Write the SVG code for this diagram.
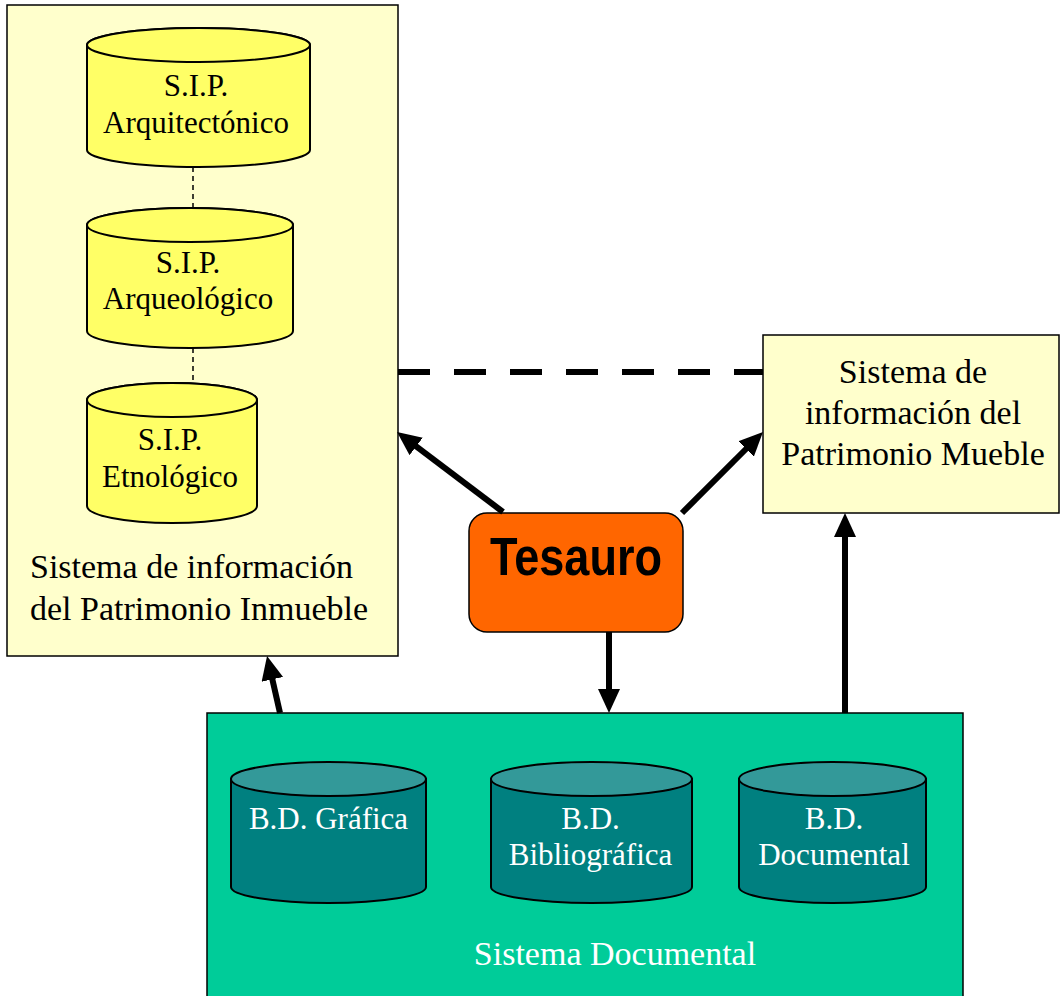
<svg xmlns="http://www.w3.org/2000/svg" width="1064" height="996" viewBox="0 0 1064 996">
<style>
.box{stroke:#000;stroke-width:1.5}
.ycyl{fill:#FFFF66;stroke:#000;stroke-width:2}
.tbody{fill:#008080;stroke:#000;stroke-width:2}
.ttop{fill:#339999;stroke:#000;stroke-width:2}
.t{font-family:"Liberation Serif","Times New Roman",serif;text-anchor:middle}
.cy{font-size:31px;fill:#000}
.wt{font-size:31px;fill:#fff}
.lbl{font-size:34px}
.arr{stroke:#000;stroke-width:6;fill:none;marker-end:url(#ah)}
</style>
<defs>
<marker id="ah" markerUnits="userSpaceOnUse" markerWidth="26" markerHeight="24" refX="12" refY="11" orient="auto">
<path d="M0,0 L24,11 L0,22 Z" fill="#000"/>
</marker>
</defs>
<rect width="1064" height="996" fill="#fff"/>

<g id="inmueble">
<rect class="box" x="7" y="5" width="391" height="651" fill="#FFFFCC"/>
<text class="t lbl" x="30" y="578" style="text-anchor:start">Sistema de información</text>
<text class="t lbl" x="30" y="620" style="text-anchor:start">del Patrimonio Inmueble</text>
</g>

<g id="sip-arquitectonico">
<path class="ycyl" d="M87,45 L87,150 A111.5,17 0 0 0 310,150 L310,45 A111.5,17 0 0 0 87,45 Z"/>
<ellipse class="ycyl" cx="198.5" cy="45" rx="111.5" ry="17"/>
<text class="t cy" x="196" y="96">S.I.P.</text>
<text class="t cy" x="196" y="133">Arquitectónico</text>
</g>

<g id="sip-arqueologico">
<path class="ycyl" d="M87,225 L87,331 A103,17 0 0 0 293,331 L293,225 A103,17 0 0 0 87,225 Z"/>
<ellipse class="ycyl" cx="190" cy="225" rx="103" ry="17"/>
<text class="t cy" x="188" y="273">S.I.P.</text>
<text class="t cy" x="188" y="309">Arqueológico</text>
</g>

<g id="sip-etnologico">
<path class="ycyl" d="M87,400 L87,506 A85,17 0 0 0 257,506 L257,400 A85,17 0 0 0 87,400 Z"/>
<ellipse class="ycyl" cx="172" cy="400" rx="85" ry="17"/>
<text class="t cy" x="170" y="450">S.I.P.</text>
<text class="t cy" x="170" y="487">Etnológico</text>
</g>

<g id="mueble">
<rect class="box" x="763" y="335" width="296" height="178" fill="#FFFFCC"/>
<text class="t lbl" x="913" y="383">Sistema de</text>
<text class="t lbl" x="913" y="424">información del</text>
<text class="t lbl" x="913" y="465">Patrimonio Mueble</text>
</g>

<g id="tesauro">
<rect class="box" x="469" y="513" width="214" height="119" rx="18" fill="#FF6600"/>
<text x="576" y="575" text-anchor="middle" font-family="'Liberation Sans Narrow','Liberation Sans',Arial,sans-serif" font-weight="bold" font-size="53" textLength="172" lengthAdjust="spacingAndGlyphs" fill="#000">Tesauro</text>
</g>

<g id="documental">
<rect class="box" x="207" y="713" width="756" height="300" fill="#00CC99"/>
<text class="t lbl" x="615" y="965" fill="#fff">Sistema Documental</text>
</g>

<g id="bd-grafica">
<path class="tbody" d="M231,779 L231,887 A97.5,16 0 0 0 426,887 L426,779 Z"/>
<ellipse class="ttop" cx="328.5" cy="779" rx="97.5" ry="17"/>
<text class="t wt" x="328.5" y="829">B.D. Gráfica</text>
</g>

<g id="bd-bibliografica">
<path class="tbody" d="M491,779 L491,887 A100.5,16 0 0 0 692,887 L692,779 Z"/>
<ellipse class="ttop" cx="591.5" cy="779" rx="100.5" ry="17"/>
<text class="t wt" x="590.5" y="829">B.D.</text>
<text class="t wt" x="590.5" y="865">Bibliográfica</text>
</g>

<g id="bd-documental">
<path class="tbody" d="M739,779 L739,887 A93.5,16 0 0 0 926,887 L926,779 Z"/>
<ellipse class="ttop" cx="832.5" cy="779" rx="93.5" ry="17"/>
<text class="t wt" x="834" y="829">B.D.</text>
<text class="t wt" x="834" y="865">Documental</text>
</g>

<g id="connectors">
<line x1="193" y1="167" x2="193" y2="208" stroke="#000" stroke-width="1.5" stroke-dasharray="5,4"/>
<line x1="193" y1="348" x2="193" y2="383" stroke="#000" stroke-width="1.5" stroke-dasharray="5,4"/>
<line x1="398" y1="372" x2="763" y2="372" stroke="#000" stroke-width="6" stroke-dasharray="32,24"/>
<line class="arr" x1="503" y1="512" x2="406.6" y2="439.2"/>
<line class="arr" x1="682" y1="513" x2="754.5" y2="440.5"/>
<line class="arr" x1="609" y1="632" x2="609" y2="701"/>
<line class="arr" x1="280" y1="713" x2="269.7" y2="667.7"/>
<line class="arr" x1="845" y1="713" x2="845" y2="525"/>
</g>
</svg>
